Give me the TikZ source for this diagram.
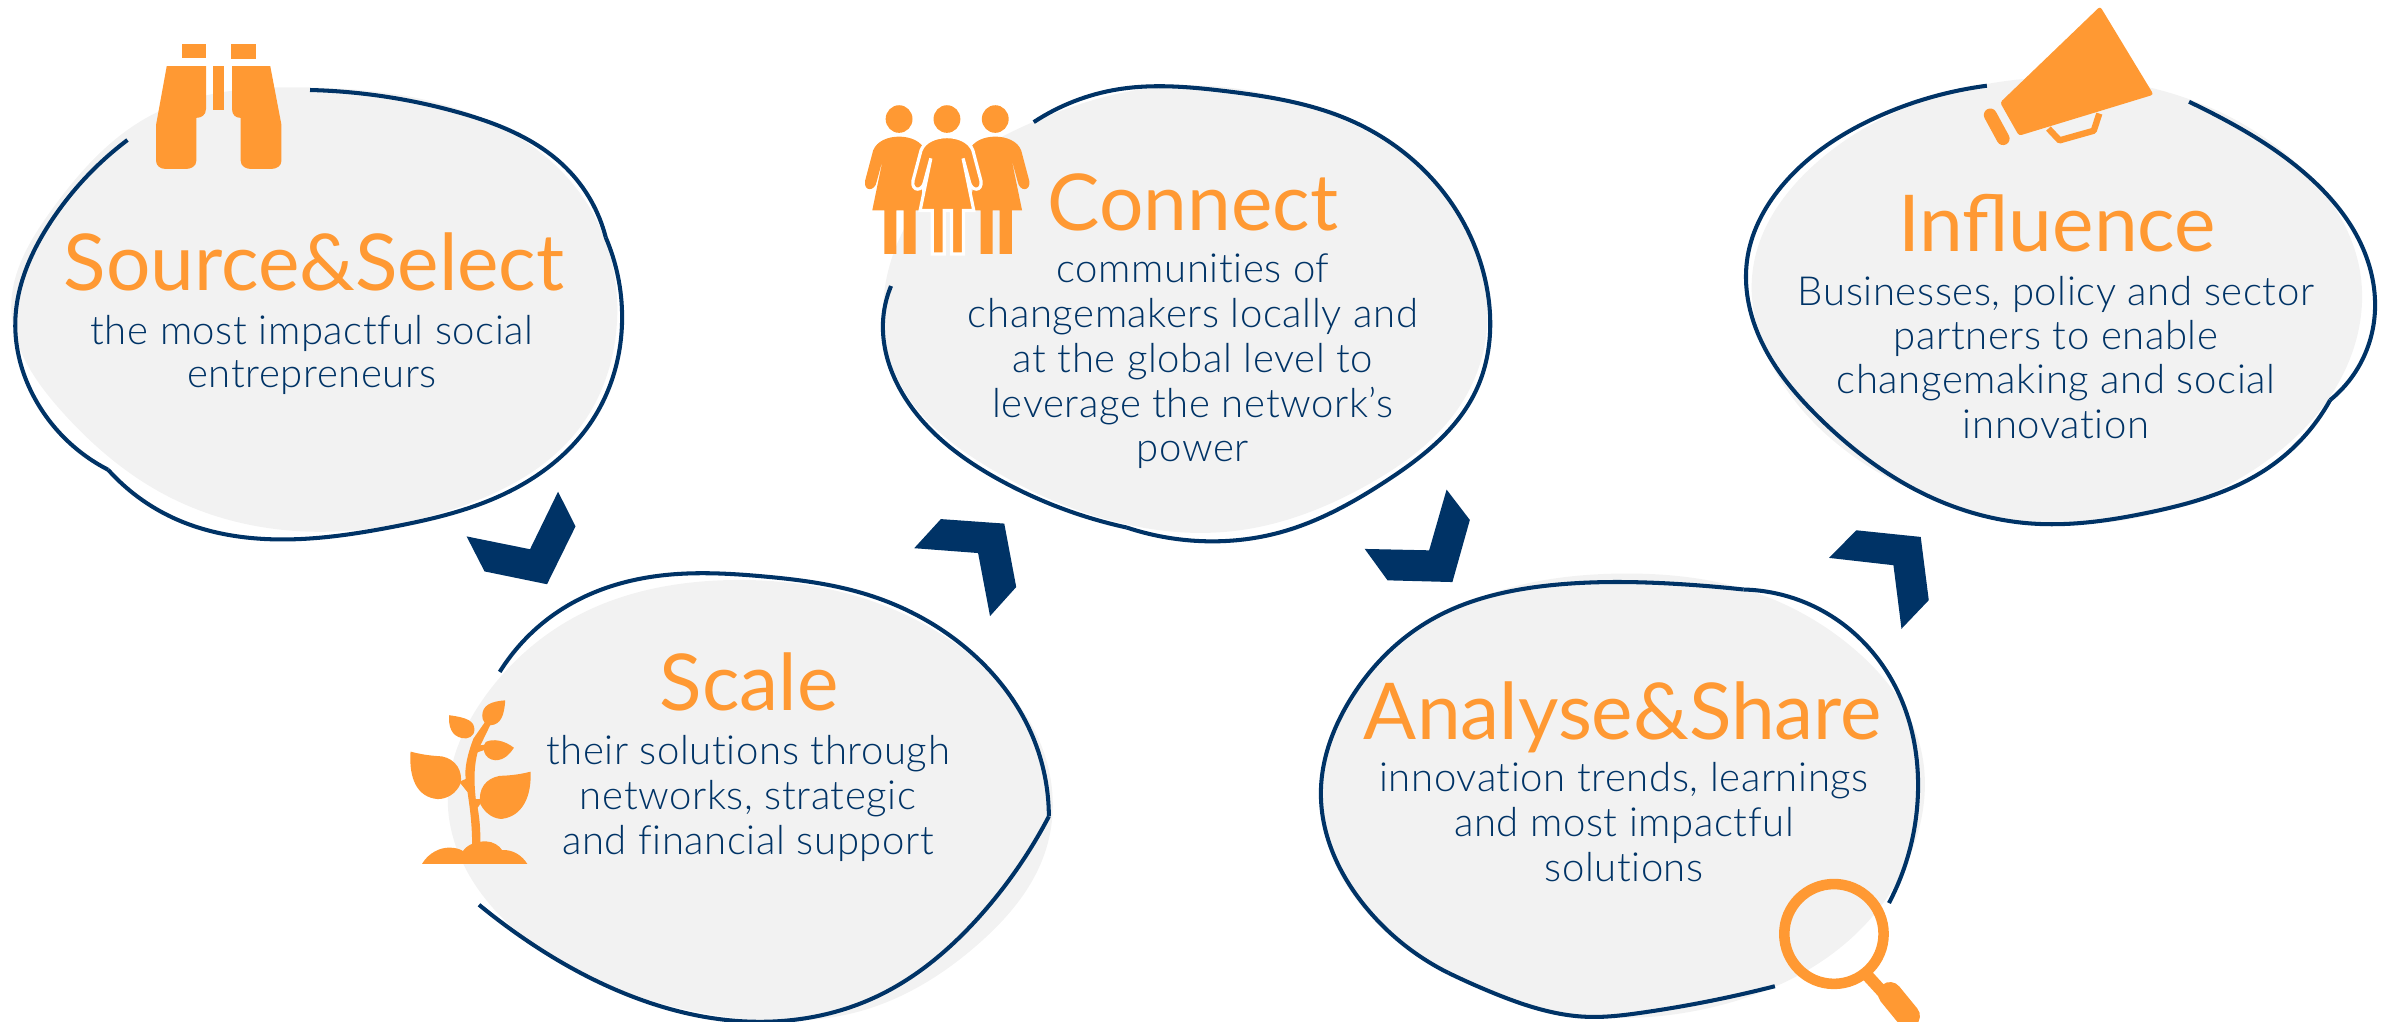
\documentclass[tikz,border=0pt]{standalone}
\usepackage{fontspec}
\usetikzlibrary{hobby}
\setmainfont{Lato}[UprightFont={* Light},Ligatures=NoCommon,LetterSpace=1.5]
\newfontfamily\ttlfont{Lato}
\definecolor{hdr}{HTML}{FF9933}
\definecolor{navy}{HTML}{003366}
\definecolor{blobgrey}{HTML}{F2F2F2}
\tikzset{
  za/.style={x=.005102cm,y=-.003571cm},
  zb/.style={xshift=3.8cm,yshift=-4.8cm,x=.004591cm,y=-.003457cm},
  zc/.style={xshift=8.4cm,yshift=-.6cm,x=.004464cm,y=-.003444cm},
  zd/.style={xshift=13cm,yshift=-5.2cm,x=.004464cm,y=-.003333cm},
  ze/.style={xshift=17.2cm,x=.004274cm,y=-.003571cm},
  blobfill/.style={fill=blobgrey,draw=none,use Hobby shortcut},
  outline/.style={draw=navy,line width=1.15pt,fill=none,use Hobby shortcut},
  chev/.style={fill=navy,draw=none},
  icon/.style={fill=hdr,draw=none},
  ttl/.style={text=hdr,font=\ttlfont\fontsize{22.3}{26}\selectfont,inner sep=0pt,anchor=base},
  bdy/.style={text=navy,font=\fontsize{11.4}{12.52}\selectfont,inner sep=0pt,anchor=base,align=center},
  person/.pic={
    \path[pic actions] (-58,262) .. controls (-50,235) and (-25,222) .. (0,222) .. controls (25,222) and (50,235) .. (58,262)
      -- (76,350) .. controls (80,382) and (54,382) .. (50,352) -- (36,285) -- (60,436) -- (37,436) -- (37,562) -- (10,562) -- (10,436)
      -- (-6,436) -- (-6,562) -- (-33,562) -- (-33,436) -- (-60,436) -- (-36,285) -- (-50,352)
      .. controls (-54,382) and (-80,382) .. (-76,350) -- cycle;
  }
}
\begin{document}
\begin{tikzpicture}[x=.01cm,y=-.01cm]
\useasboundingbox (0,0) rectangle (2390,1022);
% ---------- blob 1
\begin{scope}[za]
\path[blobfill] ([closed]610,245) .. (960,340) .. (1160,590) .. (1210,900) .. (1130,1210) .. (900,1420) .. (600,1488) .. (330,1390) .. (120,1150) .. (22,860) .. (100,590) .. (300,320);
\path[outline] (608,252) .. (900,315) .. (1110,470) .. (1188,665);
\path[outline] (1188,665) .. (1220,890) .. (1160,1180) .. (1000,1375) .. (770,1475) .. (540,1510) .. (340,1450) .. (212,1315);
\path[outline] (212,1315) .. (70,1120) .. (30,900) .. (100,620) .. (250,392);
\fill[icon] (357,122) rectangle (404,163);
\fill[icon] (453,124) rectangle (502,165);
\fill[icon] (417,185) rectangle (440,308);
\fill[icon] (327,185) -- (404,185) -- (404,305) .. controls (404,322) and (395,330) .. (385,330) -- (385,450) .. controls (385,465) and (375,473) .. (365,473) -- (325,473) .. controls (315,473) and (306,465) .. (306,450) -- (306,350) -- cycle;
\fill[icon] (530,185) -- (455,185) -- (455,305) .. controls (455,322) and (462,330) .. (472,330) -- (472,450) .. controls (472,465) and (482,473) .. (492,473) -- (532,473) .. controls (542,473) and (552,465) .. (552,450) -- (552,350) -- cycle;
\end{scope}
% ---------- blob 2
\begin{scope}[zb]
\path[blobfill] ([closed]760,288) .. (1050,340) .. (1290,510) .. (1440,770) .. (1450,1060) .. (1300,1340) .. (1050,1530) .. (760,1550) .. (450,1430) .. (230,1210) .. (147,930) .. (230,620) .. (430,390);
\path[outline] (260,553) .. (410,360) .. (610,275) .. (830,277) .. (1060,330) .. (1280,490) .. (1420,740) .. (1455,970);
\path[outline] (1455,970) .. (1310,1250) .. (1080,1490) .. (800,1562) .. (530,1480) .. (310,1320) .. (215,1225);
\fill[chev] (387,33) -- (425,133) -- (363,300) -- (227,263) -- (188,162) -- (326,199) -- cycle;
\fill[chev] (1220,112) -- (1358,125) -- (1384,308) -- (1327,392) -- (1301,210) -- (1162,196) -- cycle;
% plant
\fill[icon] (272,635) .. controls (240,638) and (222,650) .. (222,680) .. controls (222,695) and (230,707) .. (240,707) .. controls (262,705) and (270,680) .. (272,635) -- cycle;
\fill[icon] (150,678) .. controls (190,685) and (205,695) .. (205,720) .. controls (205,740) and (190,748) .. (178,744) .. controls (155,738) and (148,710) .. (150,678) -- cycle;
\fill[icon] (291,772) .. controls (270,750) and (245,745) .. (230,755) .. controls (220,770) and (225,805) .. (250,808) .. controls (270,808) and (282,790) .. (291,772) -- cycle;
\fill[icon] (66,783) .. controls (100,795) and (120,795) .. (135,797) .. controls (165,805) and (180,840) .. (175,875) .. controls (165,905) and (145,920) .. (125,920) .. controls (80,915) and (62,860) .. (66,783) -- cycle;
\fill[icon] (327,841) .. controls (300,850) and (280,852) .. (260,853) .. controls (230,860) and (212,890) .. (218,935) .. controls (230,965) and (250,978) .. (265,977) .. controls (310,970) and (330,910) .. (327,841) -- cycle;
\fill[icon] (91,1107) .. controls (105,1075) and (130,1060) .. (150,1060) .. controls (165,1060) and (175,1065) .. (180,1070) .. controls (190,1050) and (210,1042) .. (230,1042) .. controls (245,1042) and (260,1055) .. (265,1067) .. controls (290,1065) and (310,1085) .. (320,1107) -- cycle;
\fill[icon] (200,1055) .. controls (200,980) and (193,930) .. (190,900) -- (172,870) -- (186,862) .. controls (183,830) and (190,790) .. (203,745) -- (232,690) -- (240,705) -- (218,765) -- (240,760) -- (240,772) -- (212,785) .. controls (205,820) and (203,860) .. (208,920) -- (225,920) -- (212,945) .. controls (218,990) and (218,1020) .. (218,1055) -- cycle;
\end{scope}
% ---------- blob 3
\begin{scope}[zc]
\path[blobfill] ([closed]430,180) .. (740,75) .. (1100,160) .. (1340,370) .. (1445,680) .. (1400,970) .. (1180,1230) .. (880,1365) .. (620,1340) .. (330,1180) .. (130,930) .. (105,620) .. (230,340);
\path[outline] (432,180) .. (620,85) .. (860,90) .. (1140,175) .. (1340,370) .. (1445,660) .. (1420,960) .. (1220,1220) .. (980,1370) .. (830,1395) .. (640,1355);
\path[outline] (640,1355) .. (360,1220) .. (150,990) .. (95,760) .. (113,655);
\fill[chev] (1355,1245) -- (1407,1333) -- (1368,1513) -- (1223,1508) -- (1172,1417) -- (1316,1421) -- cycle;
\fill[icon] (131,171) ellipse [x radius=30,y radius=40];
\fill[icon] (238,171) ellipse [x radius=30,y radius=40];
\fill[icon] (346,171) ellipse [x radius=30,y radius=40];
\path pic[fill=hdr] at (131,0) {person};
\path pic[fill=hdr] at (346,0) {person};
\path pic[fill=hdr,draw=white,line width=.9pt] at (238,0) {person};
\end{scope}
% ---------- blob 4
\begin{scope}[zd]
\path[blobfill] ([closed]720,160) .. (1000,210) .. (1240,390) .. (1385,680) .. (1370,980) .. (1210,1280) .. (930,1460) .. (640,1490) .. (340,1370) .. (130,1150) .. (45,850) .. (120,530) .. (310,290);
\path[outline] (1060,1400) .. (760,1480) .. (640,1492) .. (430,1420) .. (330,1360);
\path[outline] (330,1360) .. (150,1170) .. (45,820) .. (110,540) .. (290,300) .. (560,195) .. (850,192) .. (990,208);
\path[outline] (990,208) .. (1200,300) .. (1340,530) .. (1380,810) .. (1315,1150);
\fill[chev] (1242,30) -- (1386,50) -- (1404,240) -- (1343,326) -- (1325,135) -- (1181,113) -- cycle;
\draw[hdr,line width=3pt] (1192,1243) ellipse [x radius=111,y radius=150];
\end{scope}
\draw[hdr,line width=3.4pt] (1866,974) -- (1888,998);
\draw[hdr,line width=6.8pt,line cap=round] (1890,994) -- (1908,1016);
% ---------- blob 5
\begin{scope}[ze]
\path[blobfill] ([closed]720,220) .. (1050,260) .. (1340,450) .. (1495,760) .. (1450,1060) .. (1240,1320) .. (950,1455) .. (620,1440) .. (290,1260) .. (110,1000) .. (75,750) .. (210,470) .. (480,280);
\path[outline] (622,240) .. (370,325) .. (150,510) .. (62,720) .. (85,930) .. (230,1170) .. (470,1380) .. (720,1465) .. (1000,1435) .. (1280,1310) .. (1425,1120);
\path[outline] (1425,1120) .. (1525,920) .. (1510,720) .. (1380,500) .. (1170,330) .. (1095,285);
\fill[icon,rounded corners=.8pt] (887,18) -- (1012,265) -- (697,380) -- (653,287) -- cycle;
\draw[hdr,line width=3.7pt,line cap=round] (630,322) -- (660,388);
\draw[hdr,line width=1.8pt,line join=round] (766,360) -- (792,393) -- (872,366) -- (885,318);
\end{scope}
% ---------- text
\node[ttl] (t1) at (314,291) {Source\&Select};
\node[bdy] (b1a) at (312,345) {the most impactful social};
\node[bdy] (b1b) at (312,388) {entrepreneurs};
\node[ttl] (t2) at (749,711) {Scale};
\node[bdy] (b2a) at (748,765) {their solutions through};
\node[bdy] (b2b) at (748,810) {networks, strategic};
\node[bdy] (b2c) at (748,855) {and financial support};
\node[ttl] (t3) at (1193,231) {Connect};
\node[bdy] (b3a) at (1193,283) {communities of};
\node[bdy] (b3b) at (1193,328) {changemakers locally and};
\node[bdy] (b3c) at (1193,373) {at the global level to};
\node[bdy] (b3d) at (1193,418) {leverage the network’s};
\node[bdy] (b3e) at (1193,462) {power};
\node[ttl] (t4) at (1623,740) {Analyse\&Share};
\node[bdy] (b4a) at (1624,792) {innovation trends, learnings};
\node[bdy] (b4b) at (1624,837) {and most impactful};
\node[bdy] (b4c) at (1624,882) {solutions};
\node[ttl] (t5) at (2057,252) {Influence};
\node[bdy] (b5a) at (2056,306) {Businesses, policy and sector};
\node[bdy] (b5b) at (2056,350) {partners to enable};
\node[bdy] (b5c) at (2056,394) {changemaking and social};
\node[bdy] (b5d) at (2056,439) {innovation};
\end{tikzpicture}
\end{document}
